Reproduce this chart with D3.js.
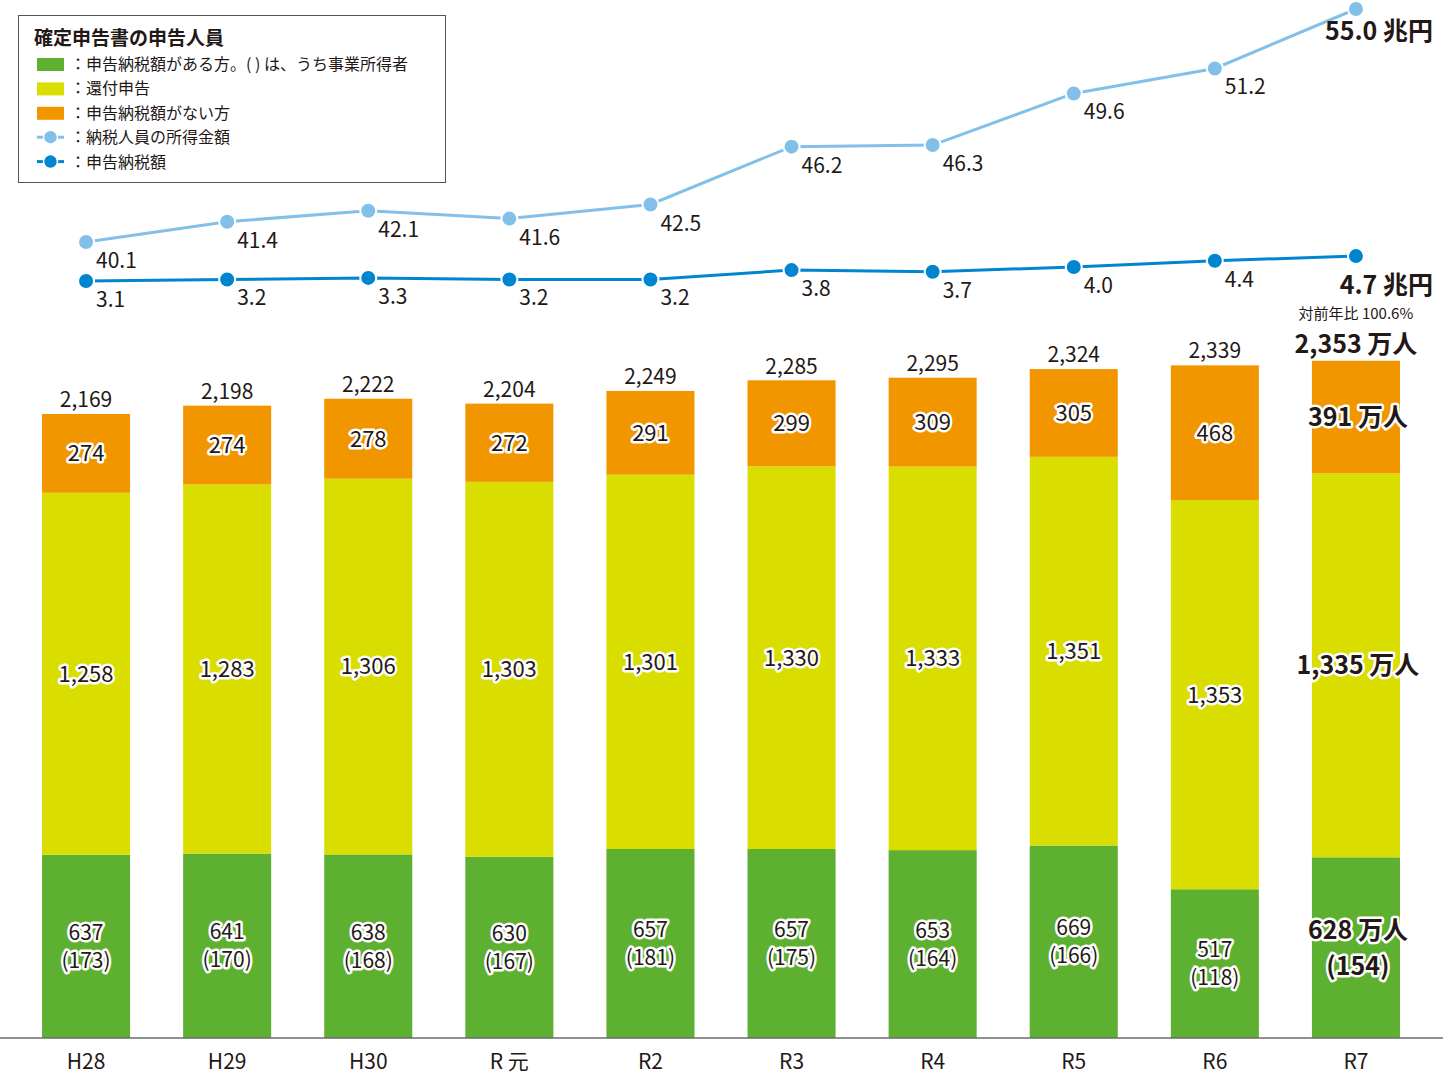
<!DOCTYPE html>
<html lang="ja">
<head>
<meta charset="utf-8">
<script src="https://cdn.jsdelivr.net/npm/d3@7"></script>
<style>
  body { margin: 0; background: #fff; }
  svg { display: block; font-family: "Noto Sans CJK JP", "Noto Sans", sans-serif; }
  .halo { paint-order: stroke; stroke: #fff; stroke-width: 5px; stroke-linejoin: round; fill: #231815; }
</style>
</head>
<body>
<div id="wrapper"></div>
<script>
const years = ["H28", "H29", "H30", "R 元", "R2", "R3", "R4", "R5", "R6", "R7"];
const taxPayers = [637, 641, 638, 630, 657, 657, 653, 669, 517, 628];
const business = [173, 170, 168, 167, 181, 175, 164, 166, 118, 154];
const refunds = [1258, 1283, 1306, 1303, 1301, 1330, 1333, 1351, 1353, 1335];
const noTax = [274, 274, 278, 272, 291, 299, 309, 305, 468, 391];
const totals = [2169, 2198, 2222, 2204, 2249, 2285, 2295, 2324, 2339, 2353];
const income = [40.1, 41.4, 42.1, 41.6, 42.5, 46.2, 46.3, 49.6, 51.2, 55.0];
const taxAmount = [3.1, 3.2, 3.3, 3.2, 3.2, 3.8, 3.7, 4.0, 4.4, 4.7];
const yoyText = "対前年比 100.6%";

const colors = {
  green: "#5eb030",
  yellow: "#dade00",
  orange: "#f29600",
  light: "#82c0ea",
  dark: "#0085d0",
  text: "#231815",
};

function drawChart() {
  const width = 1443;
  const height = 1074;
  const baseline = 1038;

  const svg = d3
    .select("#wrapper")
    .append("svg")
    .attr("width", width)
    .attr("height", height);

  const xScale = d3
    .scaleBand()
    .domain(years)
    .range([15.5, 1426.5])
    .paddingInner(0.376)
    .paddingOuter(0.188);

  const yScale = d3.scaleLinear().domain([0, 2400]).range([baseline, baseline - 690.5]);
  const incomeScale = d3.scaleLinear().domain([40, 55]).range([243.6, 9]);
  const taxScale = d3.scaleLinear().domain([3, 5]).range([282.6, 251.4]);

  const rows = years.map((y, i) => ({
    year: y,
    green: taxPayers[i],
    yellow: refunds[i],
    orange: noTax[i],
    business: business[i],
    total: totals[i],
    income: income[i],
    tax: taxAmount[i],
    last: i === years.length - 1,
  }));

  const stack = d3.stack().keys(["green", "yellow", "orange"]);
  const series = stack(rows);
  const fmt = d3.format(",");
  const cx = (d) => xScale(d.year) + xScale.bandwidth() / 2;

  // bars
  svg
    .append("g")
    .selectAll("g")
    .data(series)
    .join("g")
    .attr("fill", (s) => colors[s.key])
    .selectAll("rect")
    .data((s) => s)
    .join("rect")
    .attr("x", (d) => xScale(d.data.year))
    .attr("width", xScale.bandwidth())
    .attr("y", (d) => yScale(d[1]))
    .attr("height", (d) => yScale(d[0]) - yScale(d[1]));

  // baseline
  svg
    .append("line")
    .attr("x1", 0)
    .attr("x2", width)
    .attr("y1", baseline)
    .attr("y2", baseline)
    .attr("stroke", "#6b6b6b")
    .attr("stroke-width", 1.5);

  const xAxis = svg
    .append("g")
    .attr("transform", `translate(0,${baseline})`)
    .call(d3.axisBottom(xScale).tickSize(0).tickPadding(16));
  xAxis.select(".domain").remove();
  xAxis
    .selectAll("text")
    .attr("font-size", 21)
    .attr("fill", colors.text)
    .attr("font-family", "'Noto Sans CJK JP', sans-serif");

  // segment labels
  const labels = svg.append("g").attr("text-anchor", "middle");
  series.forEach((s) => {
    s.forEach((d) => {
      const mid = (yScale(d[0]) + yScale(d[1])) / 2;
      const last = d.data.last;
      const x = cx(d.data) + (last ? 2 : 0);
      const suffix = last ? " 万人" : "";
      const addLabel = (y, txt, size) =>
        labels
          .append("text")
          .attr("class", "halo")
          .attr("x", x)
          .attr("y", y)
          .attr("font-size", size)
          .attr("font-weight", last ? "bold" : "normal")
          .text(txt);
      if (s.key === "green") {
        const size = last ? 25 : 21;
        const half = last ? 18 : 14;
        addLabel(mid - half + size * 0.36, fmt(d.data.green) + suffix, size);
        addLabel(mid + half + size * 0.36, `(${d.data.business})`, size);
      } else {
        const size = last ? 25 : 22;
        addLabel(mid + size * 0.36, fmt(d.data[s.key]) + suffix, size);
      }
    });
  });

  // totals
  svg
    .append("g")
    .attr("text-anchor", "middle")
    .selectAll("text")
    .data(rows)
    .join("text")
    .attr("x", cx)
    .attr("y", (d) => yScale(d.total) - (d.last ? 8 : 7))
    .attr("font-size", (d) => (d.last ? 25 : 21))
    .attr("font-weight", (d) => (d.last ? "bold" : "normal"))
    .attr("fill", colors.text)
    .text((d) => fmt(d.total) + (d.last ? " 万人" : ""));

  svg
    .append("text")
    .attr("x", cx(rows[rows.length - 1]))
    .attr("y", yScale(rows[rows.length - 1].total) - 42)
    .attr("text-anchor", "middle")
    .attr("font-size", 15)
    .attr("fill", colors.text)
    .text(yoyText);

  // lines
  const drawLine = (acc, scale, color, lastDy) => {
    const line = d3
      .line()
      .x(cx)
      .y((d) => scale(acc(d)));
    svg
      .append("path")
      .datum(rows)
      .attr("d", line)
      .attr("fill", "none")
      .attr("stroke", color)
      .attr("stroke-width", 3);
    svg
      .append("g")
      .selectAll("circle")
      .data(rows)
      .join("circle")
      .attr("cx", cx)
      .attr("cy", (d) => scale(acc(d)))
      .attr("r", 8)
      .attr("fill", color)
      .attr("stroke", "#fff")
      .attr("stroke-width", 2);
    svg
      .append("g")
      .selectAll("text")
      .data(rows)
      .join("text")
      .attr("x", (d) => (d.last ? 1433 : cx(d) + 10))
      .attr("y", (d) => scale(acc(d)) + (d.last ? lastDy : 26))
      .attr("text-anchor", (d) => (d.last ? "end" : "start"))
      .attr("font-size", (d) => (d.last ? 25 : 21))
      .attr("font-weight", (d) => (d.last ? "bold" : "normal"))
      .attr("fill", colors.text)
      .text((d) => d3.format(".1f")(acc(d)) + (d.last ? " 兆円" : ""));
  };
  drawLine((d) => d.income, incomeScale, colors.light, 31);
  drawLine((d) => d.tax, taxScale, colors.dark, 38);

  // legend
  const legend = svg.append("g");
  legend
    .append("rect")
    .attr("x", 18.5)
    .attr("y", 15.5)
    .attr("width", 427)
    .attr("height", 167)
    .attr("fill", "#fff")
    .attr("stroke", "#555")
    .attr("stroke-width", 1);
  legend
    .append("text")
    .attr("x", 34)
    .attr("y", 45)
    .attr("font-size", 19)
    .attr("font-weight", "bold")
    .attr("fill", colors.text)
    .text("確定申告書の申告人員");

  const legendItems = [
    { type: "rect", color: colors.green, label: "：申告納税額がある方。( ) は、うち事業所得者" },
    { type: "rect", color: colors.yellow, label: "：還付申告" },
    { type: "rect", color: colors.orange, label: "：申告納税額がない方" },
    { type: "line", color: colors.light, label: "：納税人員の所得金額" },
    { type: "line", color: colors.dark, label: "：申告納税額" },
  ];
  legendItems.forEach((item, i) => {
    const y = 64 + i * 24.4;
    if (item.type === "rect") {
      legend
        .append("rect")
        .attr("x", 37)
        .attr("y", y - 6)
        .attr("width", 27)
        .attr("height", 13)
        .attr("fill", item.color);
    } else {
      legend
        .append("line")
        .attr("x1", 37)
        .attr("x2", 64)
        .attr("y1", y)
        .attr("y2", y)
        .attr("stroke", item.color)
        .attr("stroke-width", 3);
      legend
        .append("circle")
        .attr("cx", 50.5)
        .attr("cy", y)
        .attr("r", 7)
        .attr("fill", item.color)
        .attr("stroke", "#fff")
        .attr("stroke-width", 1.5);
    }
    legend
      .append("text")
      .attr("x", 70)
      .attr("y", y + 6)
      .attr("font-size", 16)
      .attr("fill", colors.text)
      .text(item.label);
  });
}

drawChart();
</script>
</body>
</html>
